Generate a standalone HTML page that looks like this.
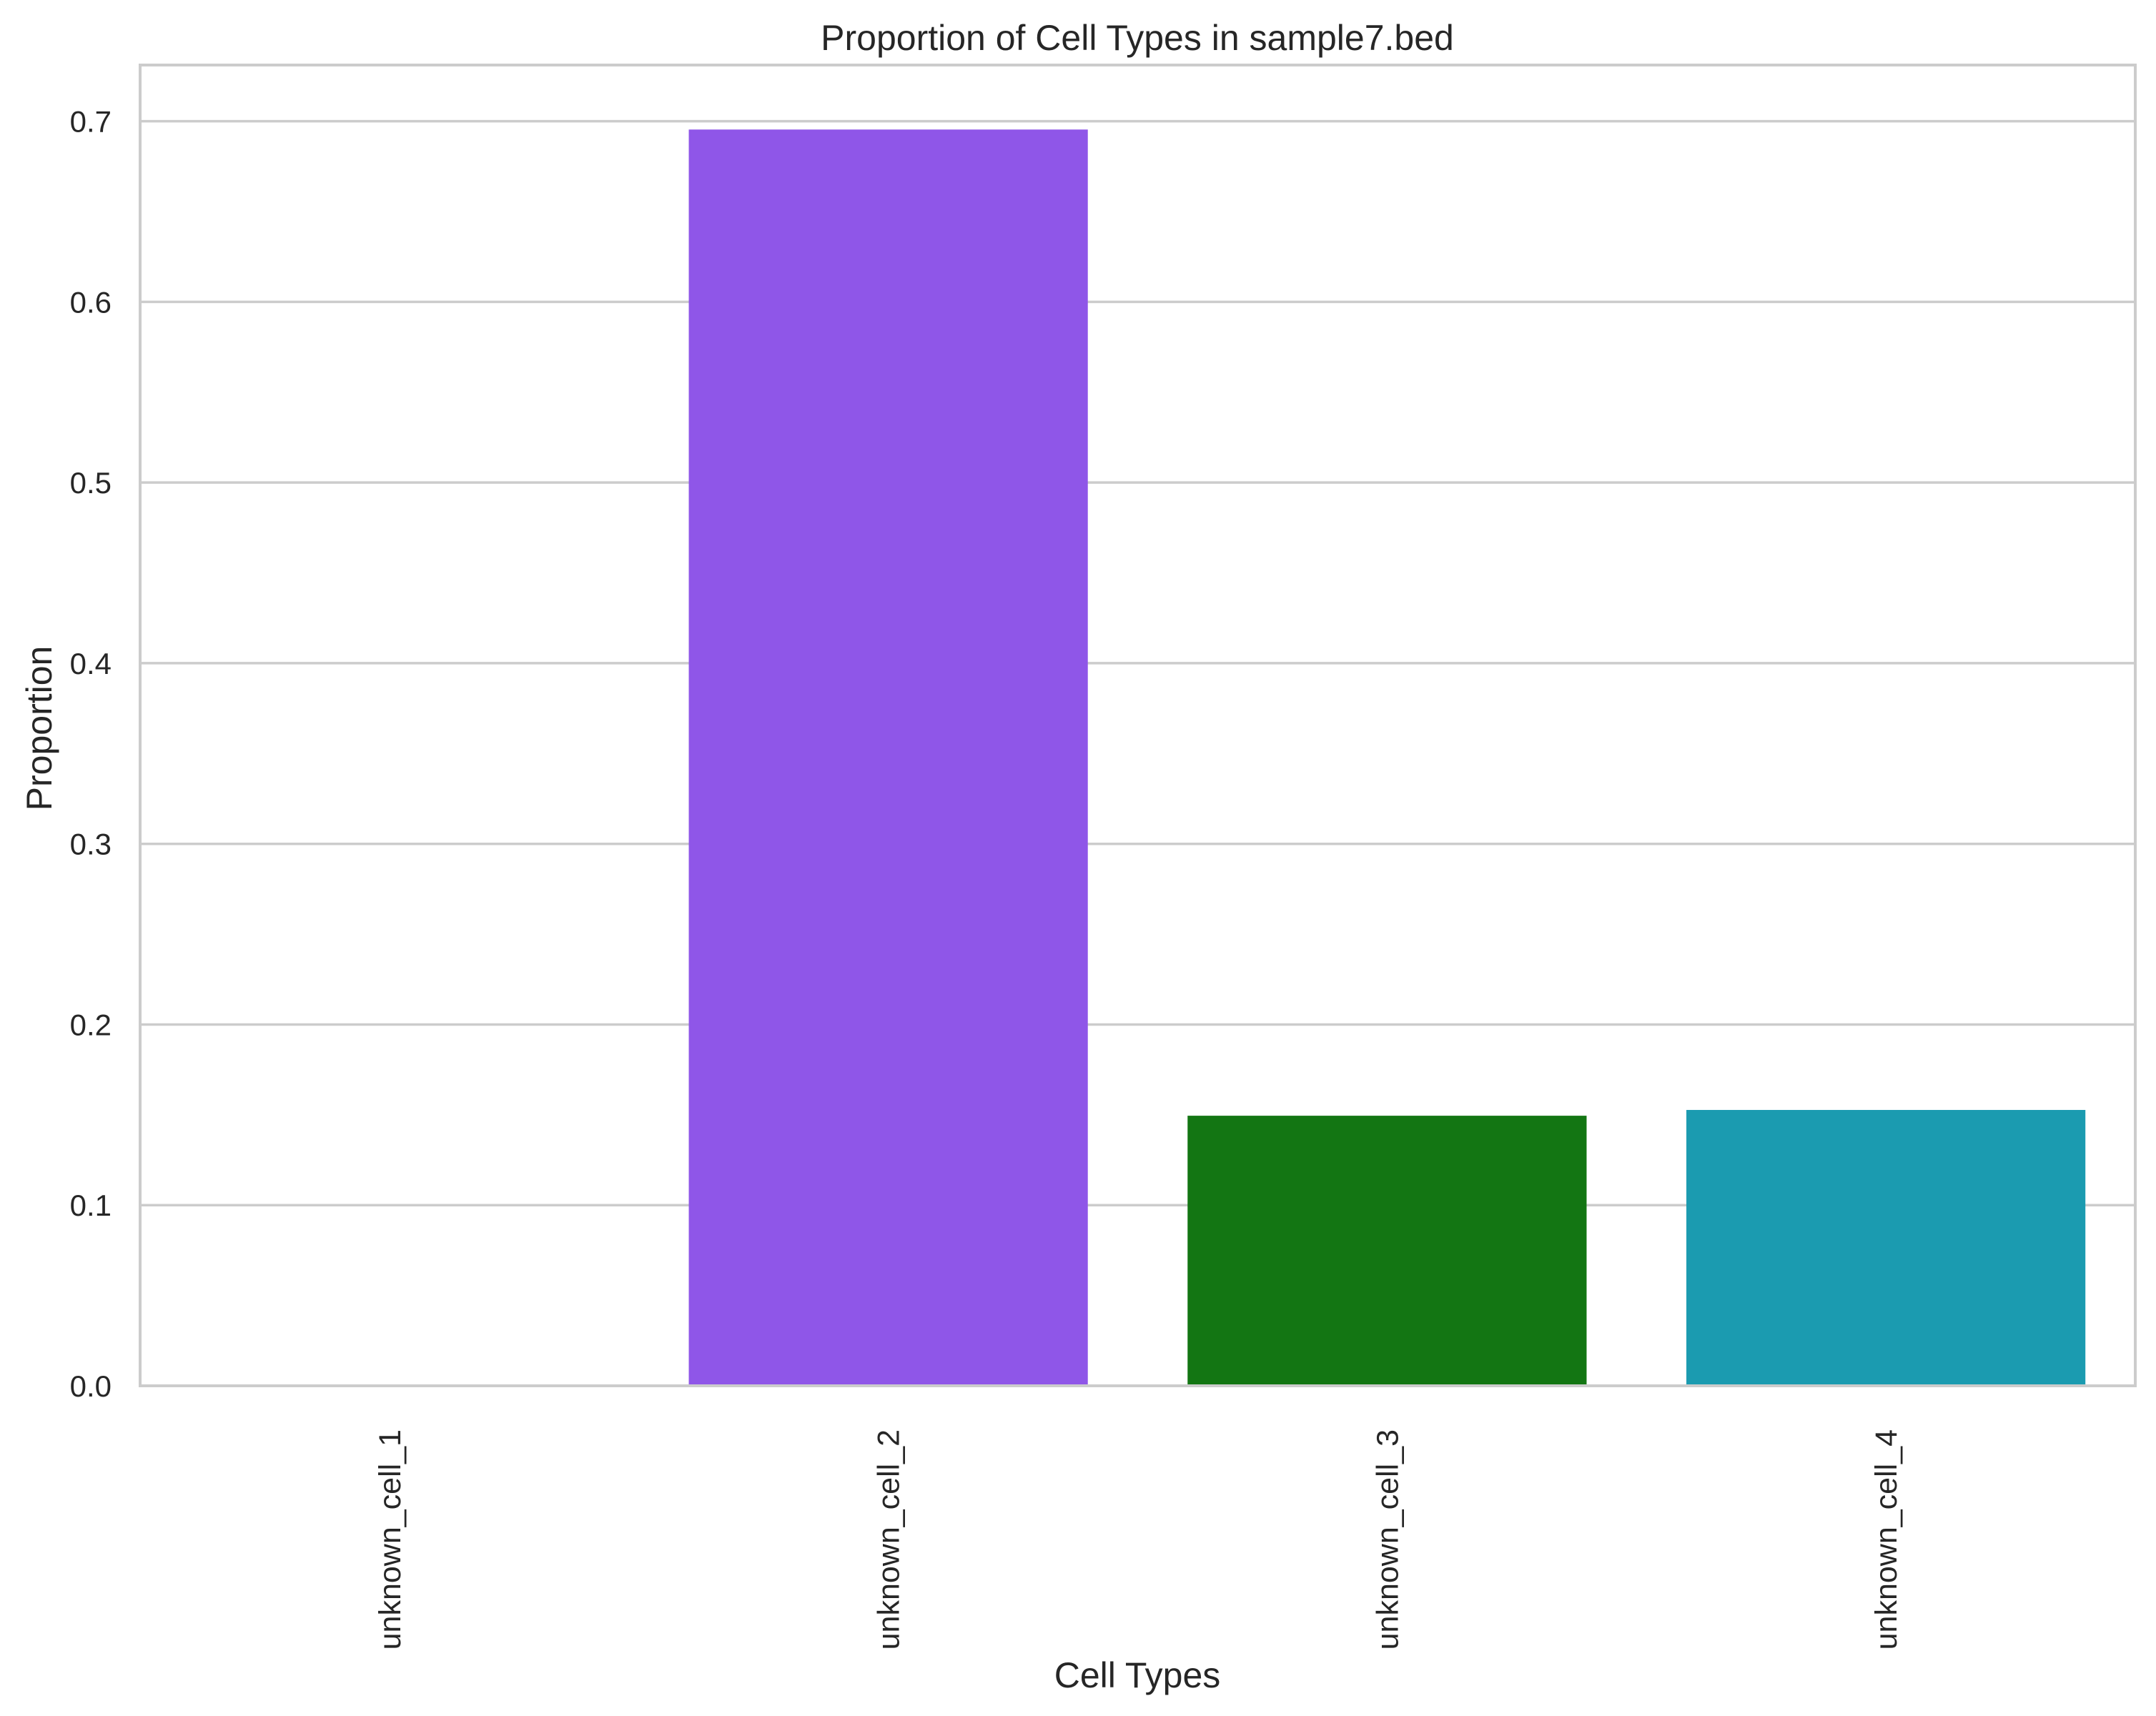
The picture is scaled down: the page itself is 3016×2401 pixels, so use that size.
<!DOCTYPE html>
<html><head><meta charset="utf-8"><style>
html,body{margin:0;padding:0;background:#fff;}
svg{display:block;font-family:"Liberation Sans",Arial,sans-serif;}
</style></head><body>
<svg id="chart" width="3016" height="2401" viewBox="0 0 3016 2401" xmlns="http://www.w3.org/2000/svg">
<rect x="0" y="0" width="3016" height="2401" fill="#fff"/>
<g id="grid"></g>
<g id="bars"></g>
<g id="yticks"></g>
<g id="xticks"></g>
<rect x="196" y="91" width="2791" height="1848" fill="none" stroke="#cccccc" stroke-width="4"/>
<text x="1591" y="70" font-size="50" fill="#262626" text-anchor="middle">Proportion of Cell Types in sample7.bed</text>
<text x="0" y="0" font-size="50" fill="#262626" text-anchor="middle" transform="translate(72,1019) rotate(-90)">Proportion</text>
<text x="1591" y="2361" font-size="50" fill="#262626" text-anchor="middle">Cell Types</text>
</svg>
<script>
const categories = ["unknown_cell_1","unknown_cell_2","unknown_cell_3","unknown_cell_4"];
const values = [0.0, 0.6954, 0.1495, 0.1527];
const colors = ["#1f77b4","#8f56e8","#137613","#1b9bb0"];
const yTicks = [0.0,0.1,0.2,0.3,0.4,0.5,0.6,0.7];
const yTickLabels = ["0.0","0.1","0.2","0.3","0.4","0.5","0.6","0.7"];

const L=196,R=2987,T=91,B=1939,yMax=0.7311;
const NS="http://www.w3.org/2000/svg";
function yScale(v){return B-(v/yMax)*(B-T);}
const band=(R-L)/categories.length;
function xCenter(i){return L+band*(i+0.5);}
const grid=document.getElementById('grid'),bars=document.getElementById('bars'),yt=document.getElementById('yticks'),xt=document.getElementById('xticks');
yTicks.forEach((v,i)=>{
  const y=yScale(v);
  const ln=document.createElementNS(NS,'line');
  
  
  ln.setAttribute('x1',L);ln.setAttribute('x2',R);ln.setAttribute('y1',y);ln.setAttribute('y2',y);
  ln.setAttribute('stroke','#cccccc');ln.setAttribute('stroke-width','3.5');
  grid.appendChild(ln);
  const t=document.createElementNS(NS,'text');
  
  
  t.setAttribute('x',156);t.setAttribute('y',y+15);t.setAttribute('text-anchor','end');
  t.setAttribute('font-size','42');t.setAttribute('fill','#262626');
  t.textContent=yTickLabels[i];
  yt.appendChild(t);
});
categories.forEach((c,i)=>{
  const w=band*0.8,x=xCenter(i)-w/2,y=yScale(values[i]);
  const r=document.createElementNS(NS,'rect');
  
  
  r.setAttribute('x',x);r.setAttribute('y',y);r.setAttribute('width',w);r.setAttribute('height',Math.max(0,B-y));
  r.setAttribute('fill',colors[i]);
  bars.appendChild(r);
  const t=document.createElementNS(NS,'text');
  
  
  t.setAttribute('text-anchor','end');t.setAttribute('font-size','43');t.setAttribute('fill','#262626');
  t.setAttribute('transform','translate('+(xCenter(i)+15)+',2000) rotate(-90)');
  t.textContent=c;
  xt.appendChild(t);
});
</script>
</body></html>
